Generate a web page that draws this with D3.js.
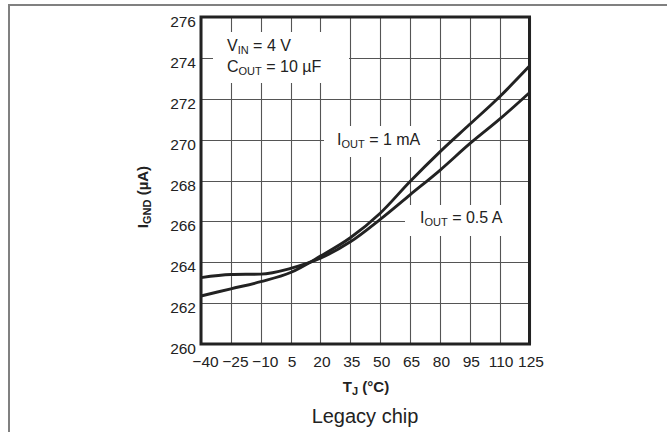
<!DOCTYPE html>
<html>
<head>
<meta charset="utf-8">
<script src="https://cdn.jsdelivr.net/npm/d3@7"></script>
<style>
  body { margin: 0; background: #fff; }
  svg { display: block; font-family: "Liberation Sans", Arial, sans-serif; }
</style>
</head>
<body>
<div id="chart"></div>
<script>
var W = 667, H = 432;

// data
var temps = [-40, -25, -10, 5, 20, 35, 50, 65, 80, 95, 110, 125];
var iOut1mA = [262.35, 262.7, 263.05, 263.5, 264.3, 265.2, 266.4, 267.95, 269.4, 270.75, 272.1, 273.6];
var iOut05A = [263.25, 263.4, 263.42, 263.7, 264.2, 265.0, 266.1, 267.3, 268.5, 269.8, 271.0, 272.3];
var xTicks = [-40, -25, -10, 5, 20, 35, 50, 65, 80, 95, 110, 125];
var yTicks = [260, 262, 264, 266, 268, 270, 272, 274, 276];

var pLeft = 201, pRight = 529.5, pTop = 17, pBottom = 344;

var x = d3.scaleLinear().domain([-40, 125]).range([pLeft, pRight]);
var y = d3.scaleLinear().domain([260, 276]).range([pBottom, pTop]);

var svg = d3.select("#chart").append("svg")
  .attr("width", W).attr("height", H);

// outer frame (only top and left visible)
svg.append("path")
  .attr("d", "M9,432V5H667")
  .attr("fill", "none")
  .attr("stroke", "#808080")
  .attr("stroke-width", 2);

// grid
var grid = svg.append("g").attr("stroke", "#555").attr("stroke-width", 1.1);
grid.selectAll("line.v").data(xTicks).join("line")
  .attr("class", "v")
  .attr("x1", d => Math.round(x(d)) + 0.5).attr("x2", d => Math.round(x(d)) + 0.5)
  .attr("y1", pTop).attr("y2", pBottom);
grid.selectAll("line.h").data(yTicks).join("line")
  .attr("class", "h")
  .attr("x1", pLeft).attr("x2", pRight)
  .attr("y1", d => Math.round(y(d)) + 0.5).attr("y2", d => Math.round(y(d)) + 0.5);

// white boxes behind the annotations
var boxes = [[213, 32, 136, 51], [324, 126, 113, 31], [405, 205, 124, 31]];
svg.selectAll("rect.box").data(boxes).join("rect")
  .attr("class", "box")
  .attr("x", d => d[0]).attr("y", d => d[1])
  .attr("width", d => d[2]).attr("height", d => d[3])
  .attr("fill", "#fff");

// curves
var line = d3.line()
  .x((d, i) => x(temps[i]))
  .y(d => y(d))
  .curve(d3.curveMonotoneX);

svg.selectAll("path.curve").data([iOut1mA, iOut05A]).join("path")
  .attr("class", "curve")
  .attr("d", line)
  .attr("fill", "none")
  .attr("stroke", "#222")
  .attr("stroke-width", 2.9)
  .attr("stroke-linejoin", "round");

// plot frame
svg.append("rect")
  .attr("x", pLeft).attr("y", pTop)
  .attr("width", pRight - pLeft).attr("height", pBottom - pTop)
  .attr("fill", "none")
  .attr("stroke", "#222")
  .attr("stroke-width", 3);

// tick labels
svg.append("g").selectAll("text").data(yTicks).join("text")
  .attr("x", 196)
  .attr("y", d => y(d) + 10)
  .attr("text-anchor", "end")
  .attr("font-size", 15.5)
  .attr("fill", "#222")
  .text(d => d);

svg.append("g").selectAll("text").data(xTicks).join("text")
  .attr("x", d => x(d) + (d < 0 ? 4.5 : 1.5))
  .attr("y", 366.5)
  .attr("text-anchor", "middle")
  .attr("font-size", 15.5)
  .attr("fill", "#222")
  .text(d => d < 0 ? "\u2212" + Math.abs(d) : d);

// annotations with subscripts
function subText(xPos, yPos, main, sub, rest, opts) {
  opts = opts || {};
  var t = svg.append("text")
    .attr("x", xPos).attr("y", yPos)
    .attr("font-size", opts.size || 16)
    .attr("font-weight", opts.bold ? "bold" : null)
    .attr("fill", "#222");
  if (opts.rotate) t.attr("transform", "rotate(-90," + xPos + "," + yPos + ")").attr("text-anchor", "middle");
  t.append("tspan").text(main);
  t.append("tspan").attr("font-size", opts.subSize || 11).attr("dy", 3).text(sub);
  t.append("tspan").attr("dy", -3).text(rest);
  return t;
}

subText(227, 51, "V", "IN", " = 4 V");
subText(227, 72, "C", "OUT", " = 10 \u00b5F");
subText(337, 145, "I", "OUT", " = 1 mA");
subText(420, 223, "I", "OUT", " = 0.5 A");

// axis titles
subText(366, 391.5, "T", "J", " (\u00b0C)", {bold: true, size: 15, subSize: 11}).attr("text-anchor", "middle");
subText(148, 197, "I", "GND", " (\u00b5A)", {bold: true, size: 15, rotate: true, subSize: 11});

svg.append("text")
  .attr("x", 365).attr("y", 423)
  .attr("text-anchor", "middle")
  .attr("font-size", 20)
  .attr("fill", "#222")
  .text("Legacy chip");
</script>
</body>
</html>
